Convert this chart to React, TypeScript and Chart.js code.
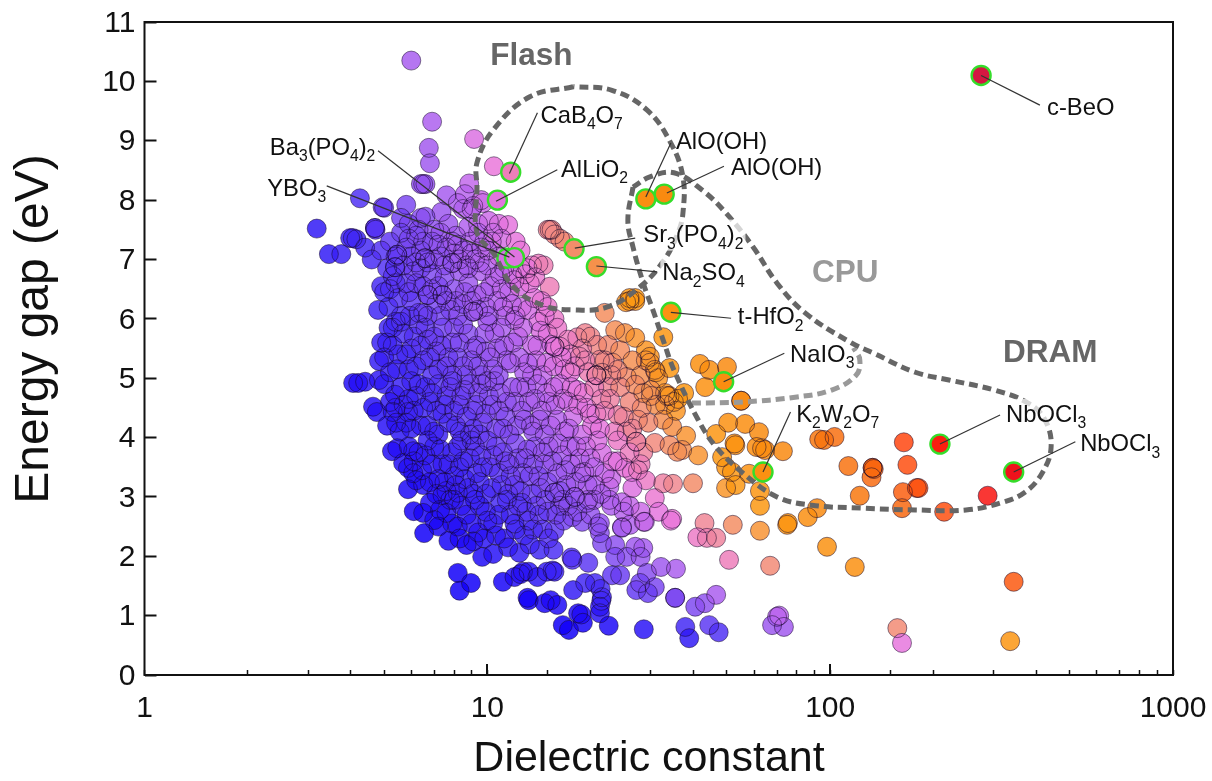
import React, { useEffect, useRef } from "react";
import { Chart, registerables } from "chart.js";
Chart.register(...registerables);

type P = [number, number];

const xTickValues = [1, 10, 100, 1000];
const yMax = 11;
const xAxisTitle = "Dielectric constant";
const yAxisTitle = "Energy gap (eV)";

const isolatedTop: P[] = [[6.0,10.35],[6.9,9.32],[6.75,8.88],[6.8,8.62],[9.15,9.03],[10.45,8.57],[6.4,8.27],[6.5,8.27],[6.6,8.27],[8.85,8.28],[7.6,8.08],[7.35,7.8],[4.25,8.03],[4.95,7.88],[5.8,7.92],[6.4,7.7],[3.18,7.52],[3.45,7.09],[3.75,7.09],[3.98,7.36],[4.05,7.36],[4.15,7.34],[4.7,7.53],[4.7,7.53],[4.72,7.5],[4.4,7.2],[4.6,7.0]];
const bandAbove75: P[] = [[5.0,7.87],[5.6,7.7],[5.9,7.6],[6.3,7.5],[6.6,7.72],[7.0,7.5],[7.3,7.45],[7.7,7.6],[8.1,7.4],[8.5,7.85],[8.8,7.55],[9.1,7.9],[9.4,7.6],[9.7,7.95],[10.1,7.65],[10.8,7.6],[11.5,7.58],[8.2,7.95],[8.6,8.1],[9.0,7.85],[9.6,8.0],[9.8,7.3],[15,7.5],[15.2,7.5],[15.4,7.5],[15.7,7.42],[16.3,7.35],[16.8,7.3]];
const band70: P[] = [[4.9,7.15],[5.2,7.3],[5.4,7.05],[5.46,7.08],[5.46,7.08],[5.38,6.87],[5.38,6.87],[5.7,6.9],[5.8,7.2],[6.0,7.05],[6.2,6.95],[6.58,7.02],[6.58,7.02],[6.9,7.3],[7.0,7.0],[7.6,7.2],[7.9,6.94],[7.9,6.94],[8.0,7.1],[8.3,7.0],[8.9,7.3],[9.2,7.0],[9.6,7.2],[10.0,6.9],[10.3,7.3],[10.8,7.05],[12.5,6.85],[13.5,6.9],[14.1,6.93]];
const extra70: P[] = [[4.9,6.55],[4.8,6.15],[5.0,6.45],[5.1,6.85],[5.15,6.2],[5.6,7.45],[5.9,7.35],[6.2,7.4],[6.5,7.3],[6.4,7.15],[6.7,6.95],[7.2,7.25],[7.3,7.05],[7.5,6.9],[7.9,7.3],[8.2,7.25],[8.5,7.15],[8.7,6.9],[9.0,7.1],[9.4,7.45],[9.5,6.95],[10,7.15],[10.4,7.45],[11,7.35],[11.2,6.85],[12.1,7.3],[12.5,7.15],[11.8,6.75]];
const band65: P[] = [[5.3,6.72],[5.5,6.35],[5.6,6.05],[5.8,6.6],[6.0,6.3],[6.1,6.8],[6.3,6.1],[6.5,6.1],[6.5,6.55],[6.7,6.4],[6.7,6.4],[6.9,6.75],[7.1,6.25],[7.4,6.4],[7.4,6.4],[7.5,6.7],[7.8,6.15],[8.0,6.5],[8.3,6.8],[8.5,6.25],[8.8,6.6],[9.1,6.12],[9.1,6.12],[9.3,6.4],[9.6,6.8],[9.9,6.2],[10.2,6.55],[10.7,6.3],[10.9,6.75],[11.3,6.05],[11.6,6.45],[12,6.65],[12.4,6.54],[12.6,6.2],[13.1,6.85],[13.3,6.6],[13.7,6.35],[14.1,5.95],[14.6,6.9],[15,6.2],[15.2,6.54],[15.7,6.0]];
const extra60: P[] = [[5.2,6.5],[5.4,6.6],[5.4,5.95],[5.9,6.45],[5.95,6.05],[6.2,6.6],[6.4,6.85],[6.7,6.05],[6.9,6.5],[7.2,6.55],[7.3,6.05],[7.6,6.3],[8.1,6.3],[8.2,6.05],[8.6,6.45],[8.8,6.85],[9,6.3],[9.4,6.15],[9.8,6.45],[10.1,6.05],[10.5,6.7],[11,6.5],[11.1,6.2],[11.8,6.25],[12.1,6.05],[12.9,6.75],[13.1,6.15],[13.8,6.7],[14.4,6.3],[14.7,6.05]];
const band55: P[] = [[4.83,5.29],[5.1,5.6],[5.3,5.85],[5.2,5.1],[5.5,5.4],[5.7,5.75],[5.9,5.15],[6.0,5.5],[6.3,5.9],[6.5,5.3],[6.7,5.65],[6.9,5.05],[7.1,5.45],[7.4,5.85],[7.6,5.2],[7.9,5.6],[8.2,5.35],[8.5,5.9],[8.7,5.05],[9.1,5.5],[9.4,5.2],[9.8,5.75],[10.2,5.35],[10.5,5.76],[10.8,5.05],[11.2,5.55],[11.7,5.25],[12,5.98],[12.3,5.7],[12.8,5.1],[13.5,5.56],[13.9,5.3],[14.3,5.8],[14.9,5.26],[15.4,5.56],[15.7,5.53],[15.7,5.53],[16.3,5.53],[16.8,5.15],[17.5,5.4],[18.3,5.69],[18.6,5.36],[19.3,5.76],[19.7,5.1],[20.8,5.05],[20.8,5.05],[20.8,5.05],[20.9,5.56],[21.3,5.31],[21.6,5.09],[22,6.1],[22.5,5.56],[23.2,5.26],[23.6,5.81],[24,5.14],[24.4,5.47],[25.2,5.76],[25.5,5.02],[25.4,6.28],[26,6.35],[27,6.35],[27,5.68],[29,5.47],[29.8,5.36],[29.8,5.26],[30.8,5.14],[32.6,5.69],[34,5.17],[31.5,5.0],[29,5.3],[31,5.1]];
const extra55: P[] = [[4.9,5.6],[5.0,5.35],[5.15,5.85],[5.3,5.55],[5.45,5.15],[5.6,5.95],[5.8,5.4],[6.1,5.7],[6.2,5.2],[6.4,5.55],[6.6,5.85],[6.8,5.35],[7,5.7],[7.2,5.15],[7.35,5.55],[7.7,5.35],[7.9,5.05],[8,5.85],[8.3,5.6],[8.5,5.2],[8.8,5.75],[9,5.3],[9.3,5.55],[9.6,5.05],[9.9,5.45],[10,5.95],[10.4,5.15],[10.7,5.5],[11,5.85],[11.4,5.3],[11.9,5.6],[12.4,5.35],[12.7,5.85],[13.1,5.25],[13.5,5.05],[14,5.55],[14.5,5.05],[15,5.75],[15.6,5.2],[16,5.85],[16.5,5.35],[17.2,5.65],[17.5,5.1],[18,5.2],[18.9,5.5],[19.3,5.3],[20,5.7],[22,5.3],[23,5.05],[26.5,5.3],[28,5.05]];
const band45: P[] = [[4.06,4.92],[4.2,4.92],[4.4,4.94],[4.83,4.97],[4.64,4.52],[4.76,4.43],[5.38,4.72],[5.42,4.25],[5.3,4.43],[5.87,4.43],[5.8,4.25],[5.0,4.9],[5.2,4.6],[5.6,4.85],[5.7,4.55],[6.0,4.95],[6.2,4.7],[6.4,4.2],[6.6,4.85],[6.8,4.6],[7.0,4.1],[7.2,4.9],[7.4,4.4],[7.6,4.7],[7.9,4.95],[8.1,4.2],[8.3,4.55],[8.6,4.8],[8.9,4.05],[9.1,4.45],[9.4,4.75],[9.7,4.25],[10,4.95],[10.3,4.55],[10.6,4.15],[10.9,4.75],[11.3,4.35],[11.6,4.05],[12,4.6],[12.4,4.85],[12.8,4.3],[13.2,4.6],[13.6,4.1],[14,4.9],[14.4,4.45],[14.9,4.75],[15.3,4.2],[15.8,4.55],[16.3,4.9],[16.8,4.1],[17.2,4.6],[17.8,4.35],[18.3,4.8],[18.9,4.05],[19.5,4.5],[20.2,4.2],[20.8,4.4],[21.5,4.65],[22.5,4.85],[23.5,4.1],[24,4.38],[24.4,4.85],[25,4.35],[26,4.6],[27,4.89],[27.5,4.3],[28.2,4.5],[28.5,4.75],[30,4.8],[31,4.55],[32.6,4.3],[33.5,4.7],[34.6,4.18],[35,4.6],[36,4.65],[38,4.03],[33,4.75],[34,4.7],[37.5,4.75],[33,4.55],[35.5,4.45],[30,4.7]];
const extra45: P[] = [[5.1,4.2],[5.4,4.5],[5.55,4.1],[5.9,4.65],[6,4.15],[6.1,4.45],[6.3,4.9],[6.5,4.5],[6.7,4.2],[6.9,4.75],[7.1,4.45],[7.2,4.05],[7.5,4.55],[7.7,4.25],[7.8,4.85],[8,4.45],[8.3,4.1],[8.4,4.7],[8.7,4.35],[8.9,4.9],[9.1,4.15],[9.3,4.55],[9.5,4.05],[9.6,4.9],[9.9,4.4],[10.1,4.7],[10.5,4.95],[10.8,4.45],[11.1,4.15],[11.4,4.6],[11.8,4.85],[12.2,4.2],[12.6,4.45],[13,4.85],[13.4,4.2],[13.8,4.65],[14.2,4.3],[14.7,4.05],[15.1,4.6],[15.6,4.85],[16,4.3],[16.6,4.65],[17.3,4.15],[17.6,4.85],[18.4,4.55],[19.1,4.75],[19.9,4.4],[20.5,4.85],[21.3,4.15],[22,4.45],[22.8,4.65],[25.5,4.1],[26.5,4.15],[29.5,4.25]];
const band35: P[] = [[5.27,3.77],[5.46,3.82],[6.08,3.77],[5.68,3.57],[5.87,3.49],[6.08,3.4],[6.45,3.45],[6.2,3.28],[5.87,3.13],[7.4,3.03],[8.2,3.07],[6.3,3.75],[6.7,3.95],[6.9,3.55],[7.2,3.3],[7.3,3.8],[7.6,3.1],[7.7,3.55],[8.0,3.35],[8.2,3.85],[8.5,3.6],[8.8,3.15],[9.0,3.95],[9.3,3.4],[9.6,3.7],[9.9,3.05],[10.2,3.5],[10.6,3.85],[11,3.2],[11.3,3.6],[11.7,3.35],[12.1,3.9],[12.5,3.1],[12.9,3.65],[13.3,3.35],[13.8,3.85],[14.3,3.15],[14.7,3.55],[15.1,3.85],[15.7,3.07],[15.7,3.07],[16,3.4],[16.5,3.7],[17,3.2],[17.5,3.55],[18,3],[18,3],[18.2,3.85],[18.8,3.4],[19.2,3.42],[19.7,2.95],[20,3.65],[20.6,3.2],[21.6,3.74],[22,3.4],[22.7,3.17],[23.2,3.6],[24,3.95],[24.7,2.91],[25.2,3.49],[26.4,3.42],[27.2,3.93],[27.2,3.93],[27.5,3.45],[29,3.28],[28.5,3.75],[30.8,3.91],[30.8,2.98],[32.6,3.23],[34,3.87],[34.8,3.22],[35.8,3.76],[37,3.79],[39.8,3.23],[41.2,3.7]];
const extra35: P[] = [[5.9,3.85],[6.1,3.6],[6.5,3.2],[6.6,3.7],[6.8,3.25],[7,3.85],[7.1,3.05],[7.4,3.55],[7.5,3.25],[7.9,3.75],[8.1,3.2],[8.3,3.5],[8.4,3.95],[8.6,3.3],[8.9,3.65],[9.1,3.05],[9.2,3.85],[9.5,3.25],[9.7,3.5],[10,3.95],[10.3,3.15],[10.4,3.7],[10.8,3.4],[11.1,3.75],[11.5,3.05],[11.6,3.55],[12,3.2],[12.3,3.65],[12.7,3.4],[13.1,3.8],[13.5,3.05],[13.6,3.55],[14.1,3.35],[14.5,3.75],[15,3.25],[15.5,3.6],[16.1,3.9],[16.3,3.1],[16.9,3.45],[17.4,3.85],[18.1,3.25],[18.6,3.65],[19.4,3.85],[19.6,3.2],[20.5,3.5],[21,3.95],[21.5,3.05],[23,3.3],[24,3.6],[26,3.75],[26.5,3.15],[28,3.55]];
const band25: P[] = [[6.1,2.76],[6.5,2.73],[6.54,2.39],[7.0,2.61],[7.28,2.78],[7.6,2.73],[7.7,2.26],[8,2.95],[8.2,2.5],[8.7,2.19],[8.7,2.7],[9.2,2.95],[9.4,2.4],[9.66,1.99],[9.9,2.75],[10.4,2.04],[10.4,2.55],[10.9,2.9],[11.2,2.3],[11.7,2.7],[12.1,2.45],[12.4,2.06],[12.6,2.9],[13.2,2.6],[13.3,2.2],[13.9,2.85],[14.2,2.11],[14.5,2.45],[15,2.75],[15.6,2.11],[15.7,2.44],[16.3,2.85],[16.7,2.6],[17.7,2.66],[18.9,2.58],[19.5,2.9],[21.3,2.56],[21.3,2.39],[21,2.5],[21.6,2.22],[22.7,2.95],[23,2.85],[23.6,2.19],[24.7,2.49],[24.7,2.48],[26,2.85],[26.1,2.53],[27,2.16],[28,2.75],[28.5,2.14],[28.6,2.58],[28.8,2.58],[31.6,2.75],[34.6,2.63],[34.3,2.6]];
const extra25: P[] = [[6.8,2.9],[7.2,2.5],[7.8,2.95],[7.9,2.55],[8.3,2.3],[8.4,2.85],[9,2.55],[9.1,2.25],[9.5,2.85],[9.8,2.3],[10,2.6],[10.6,2.35],[10.8,2.7],[11.4,2.95],[11.5,2.15],[12,2.55],[12.3,2.85],[12.8,2.35],[13,2.75],[13.6,2.45],[14.2,2.7],[14.8,2.95],[15.1,2.3],[15.9,2.7],[16.6,2.95],[17.2,2.85],[18.3,2.75],[20,2.7],[20.5,2.95],[25,2.75]];
const band15: P[] = [[8.2,1.72],[8.96,1.55],[8.3,1.42],[11.1,1.57],[12,1.65],[12.7,1.74],[12.5,1.7],[13.2,1.74],[14,1.65],[14.9,1.74],[15.7,1.74],[15.5,1.76],[13.2,1.26],[13.1,1.3],[14.7,1.21],[15.3,1.26],[16,1.18],[16.6,0.84],[17.3,0.76],[18.4,1.04],[19,0.88],[18.8,1.02],[21.3,1.15],[21.3,1.04],[21.6,1.31],[21.5,1.25],[22.6,0.83],[28.6,0.77],[17.8,1.43],[19.3,1.55],[20.6,1.55],[21.4,1.45],[17.7,1.94],[19.7,1.89],[17.6,1.98],[23.6,1.99],[25.5,1.99],[28,1.99],[23.1,1.68],[24.4,1.68],[29.2,1.72],[30.8,1.48],[27.2,1.43],[29.4,1.38],[35.3,1.3],[32.1,1.82],[35.5,1.79],[27.9,1.55]];
const rightScatter: P[] = [[41.7,5.24],[44.4,5.14],[50,5.19],[43.2,4.85],[55,4.62],[55,4.62],[50.4,4.25],[56.5,4.23],[62,4.09],[46.5,4.06],[52.6,3.9],[52.9,3.87],[61,3.84],[63.3,3.82],[64.6,3.79],[72.8,3.77],[48.4,3.67],[49.7,3.5],[51.7,3.42],[58,3.39],[49.7,3.15],[53,3.2],[62.4,3.1],[62.4,2.85],[91.6,2.81],[86,2.66],[75.3,2.56],[74.9,2.53],[62.4,2.43],[52,2.53],[43,2.56],[41,2.32],[43.7,2.31],[46.5,2.31],[50.7,1.94],[66.8,1.84],[97.9,2.16],[118,1.82],[92.9,3.97],[96,3.96],[103,4.01],[164,3.92],[113,3.52],[133,3.49],[133,3.49],[134,3.47],[132,3.33],[168,3.54],[122,3.02],[163,3.08],[179,3.15],[181,3.15],[162,2.81],[215,2.75],[288,3.02],[343,1.57],[335,0.57],[157,0.79],[162,0.54],[70,0.98],[67.7,0.84],[73.3,0.81],[71,1.0],[37.8,0.81],[38.8,0.62],[44.4,0.84],[47.3,0.72],[35.3,1.3],[40.4,1.15],[43.1,1.21],[46.5,1.35],[26,6.3],[27,6.3]];
const highlighted: P[] = [[275.6,10.1],[11.7,8.47],[10.7,8.0],[11.4,7.02],[12,7.03],[29,8.02],[32.8,8.1],[17.9,7.18],[20.8,6.88],[34.3,6.11],[48.9,4.94],[63.7,3.42],[209,3.89],[343,3.42]];

const flashOutline: P[] = [[17.8,9.91],[13.3,9.74],[10.4,9.18],[9.33,8.63],[9.33,8.22],[9.33,7.45],[10.4,7.11],[11.9,6.54],[14.5,6.23],[17.8,6.15],[22.4,6.2],[27.9,6.54],[32.8,6.99],[36,7.45],[37.2,7.78],[37.2,8.39],[34.3,8.96],[29.2,9.52],[23.1,9.85],[17.8,9.91]];
const dramOutline: P[] = [[26.6,8.22],[25.7,7.66],[26.6,7.21],[28.5,6.6],[30.4,6.15],[32.8,5.59],[35,5.14],[41.2,4.3],[46.5,3.84],[55.7,3.4],[70,3.0],[88.5,2.86],[125,2.81],[177,2.78],[249,2.78],[315,2.9],[370,3.08],[415,3.4],[441,3.84],[423,4.3],[378,4.58],[301,4.8],[222,4.97],[177,5.1],[134,5.42],[114,5.61],[84.5,6.1],[70,6.6],[59.6,7.21],[49.7,7.78],[42.3,8.17],[35,8.46],[29.8,8.39],[26.6,8.22]];
const cpuLobe: P[] = [[39.5,4.58],[55.7,4.6],[79,4.68],[101,4.8],[119,5.05],[122,5.31],[117,5.51]];

const leaders: P[][] = [
  [[275.6,10.1],[409,9.6]],[[29,8.05],[34.3,8.96]],[[33.4,8.12],[49,8.57]],[[11.6,8.45],[14,9.47]],
  [[10.6,7.98],[16,8.51]],[[4.8,8.83],[12,7.04]],[[3.4,8.24],[11.6,7.04]],[[18,7.19],[27,7.36]],
  [[20.8,6.89],[31.3,6.79]],[[34.3,6.11],[51.4,6.01]],[[48.9,4.94],[73.5,5.42]],[[63.7,3.42],[76.6,4.43]],
  [[209,3.89],[313,4.38]],[[343,3.42],[519,3.93]],
];

const calloutText = ["CaB_4O_7","AlLiO_2","Ba_3(PO_4)_2","YBO_3","AlO(OH)","AlO(OH)","Sr_3(PO_4)_2","Na_2SO_4","t-HfO_2","NaIO_3","K_2W_2O_7","NbOCl_3","NbOCl_3","c-BeO"];
const calloutEps = [14.3,16.4,2.32,2.28,35.5,51.4,28.5,32.4,53.8,76.4,79.6,326,536,429];
const calloutGap = [9.45,8.54,8.91,8.22,9.01,8.56,7.43,6.79,6.05,5.42,4.41,4.41,3.91,9.57];
const calloutBacked = [false,false,false,false,false,false,true,true,false,false,false,true,false,false];

const regionNames = ["Flash","CPU","DRAM"];
const regionEps = [10.2,88.5,319];
const regionGap = [10.43,6.77,5.42];
const regionColors = ["#666666","#999999","#666666"];

const stops: [number, number[]][] = [
  [1.2,[18,0,248]],[1.5,[70,44,245]],[1.7,[138,80,240]],[1.85,[187,102,238]],[1.95,[234,120,220]],
  [2.05,[240,136,144]],[2.15,[245,144,80]],[2.22,[252,154,20]],[2.5,[248,132,15]],[2.65,[248,106,16]],
  [2.8,[255,74,16]],[2.95,[248,16,16]],[3.5,[208,24,72]],
];
function fomColor(eps: number, gap: number, alpha: number) {
  const v = Math.log10(eps * gap);
  let c = stops[0][1];
  if (v >= stops[stops.length - 1][0]) c = stops[stops.length - 1][1];
  else for (let i = 0; i < stops.length - 1; i++) {
    const [a, ca] = stops[i], [b, cb] = stops[i + 1];
    if (v >= a && v < b) { const t = (v - a) / (b - a); c = ca.map((k, j) => k + (cb[j] - k) * t); }
  }
  return `rgba(${Math.round(c[0])},${Math.round(c[1])},${Math.round(c[2])},${alpha})`;
}
const toXY = (a: P[]) => a.map(([x, y]) => ({ x, y }));
const FONT = '"Liberation Sans", Arial, sans-serif';

function drawRich(ctx: CanvasRenderingContext2D, s: string, x: number, y: number, size: number, backed: boolean) {
  const parts = s.split(/_(\d)/);
  ctx.textBaseline = "alphabetic";
  ctx.textAlign = "left";
  const subSize = size * 0.66;
  let w = 0;
  parts.forEach((p, i) => { ctx.font = `${i % 2 ? subSize : size}px ${FONT}`; w += ctx.measureText(p).width; });
  const base = y + size * 0.36;
  if (backed) { ctx.fillStyle = "rgba(255,255,255,0.72)"; ctx.fillRect(x - 2, y - size * 0.6, w + 4, size * 1.3); }
  ctx.fillStyle = "#111";
  let cx = x;
  parts.forEach((p, i) => {
    const sub = i % 2 === 1;
    ctx.font = `${sub ? subSize : size}px ${FONT}`;
    ctx.fillText(p, cx, sub ? base + size * 0.28 : base);
    cx += ctx.measureText(p).width;
  });
}

const overlay = {
  id: "overlay",
  afterDatasetsDraw(chart: any) {
    const { ctx, chartArea: a, scales: { x, y } } = chart;
    ctx.save();
    ctx.strokeStyle = "#111";
    ctx.lineWidth = 2;
    ctx.strokeRect(a.left, a.top, a.right - a.left, a.bottom - a.top);
    xTickValues.slice(1, 3).forEach((v) => {
      const px = Math.round(x.getPixelForValue(v));
      ctx.beginPath(); ctx.moveTo(px, a.bottom); ctx.lineTo(px, a.bottom - 11); ctx.stroke();
    });
    calloutText.forEach((t, i) => drawRich(ctx, t, x.getPixelForValue(calloutEps[i]), y.getPixelForValue(calloutGap[i]), 23.8, calloutBacked[i]));
    regionNames.forEach((t, i) => {
      ctx.font = `bold 31.5px ${FONT}`;
      ctx.fillStyle = regionColors[i];
      ctx.textAlign = "left";
      ctx.textBaseline = "middle";
      ctx.fillText(t, x.getPixelForValue(regionEps[i]), y.getPixelForValue(regionGap[i]));
    });
    ctx.fillStyle = "#111";
    ctx.textAlign = "center";
    ctx.textBaseline = "middle";
    ctx.font = `43px ${FONT}`;
    ctx.fillText(xAxisTitle, 649, 759);
    ctx.translate(35, 329);
    ctx.rotate(-Math.PI / 2);
    ctx.font = `48px ${FONT}`;
    ctx.fillText(yAxisTitle, 0, 0);
    ctx.restore();
  },
};

export default function App() {
  const ref = useRef<HTMLCanvasElement>(null);
  useEffect(() => {
    const all = [...isolatedTop, ...bandAbove75, ...band70, ...extra70, ...band65, ...extra60, ...band55, ...extra55, ...band45, ...extra45, ...band35, ...extra35, ...band25, ...extra25, ...band15, ...rightScatter];
    const outline = (data: P[], color: string, order: number) => ({
      type: "scatter", data: toXY(data), showLine: true, tension: 0.4, pointRadius: 0, fill: false,
      borderColor: color, borderWidth: 5, borderDash: [9, 5], order,
    });
    const chart = new Chart(ref.current!, {
      type: "scatter",
      data: {
        datasets: [
          ...leaders.map((l) => ({ type: "scatter", data: toXY(l), showLine: true, pointRadius: 0, borderColor: "#333", borderWidth: 1.2, tension: 0, order: 0 })),
          {
            data: toXY(highlighted), order: 4, pointRadius: 9.5, pointBorderWidth: 2.4,
            pointBorderColor: "#35dd2a",
            pointBackgroundColor: (c: any) => fomColor(c.raw.x, c.raw.y, 1),
          },
          outline(flashOutline, "#666666", 2),
          outline(dramOutline, "#666666", 1),
          outline(cpuLobe, "#999999", 3),
          {
            data: toXY(all), order: 5, pointRadius: 9.5, pointBorderWidth: 1,
            pointBorderColor: "rgba(20,5,40,0.5)",
            pointBackgroundColor: "rgba(0,0,0,0)",
          },
          {
            data: toXY(all), order: 6, pointRadius: 9.5, pointBorderWidth: 0,
            pointBackgroundColor: (c: any) => fomColor(c.raw.x, c.raw.y, 0.85),
          },
        ] as any,
      },
      options: {
        animation: false, responsive: false,
        layout: { padding: { top: 22, right: 39, left: 0, bottom: 0 } },
        plugins: { legend: { display: false }, tooltip: { enabled: false } },
        scales: {
          x: {
            type: "logarithmic", min: 1, max: 1000,
            afterFit: (s: any) => { s.height = 106; s.paddingLeft = 0; s.paddingRight = 0; },
            grid: { drawOnChartArea: false, drawTicks: true, tickLength: -5, tickColor: "#111", tickWidth: 1.5 },
            border: { display: false },
            ticks: {
              autoSkip: false, maxRotation: 0, padding: 21, color: "#111", font: { family: FONT, size: 30 },
              callback: (v: any) => (xTickValues.includes(Number(v)) ? String(v) : ""),
            },
          },
          y: {
            min: 0, max: yMax,
            afterFit: (s: any) => { s.width = 144.5; s.paddingTop = 0; s.paddingBottom = 0; },
            grid: { drawOnChartArea: false, drawTicks: true, tickLength: -12, tickColor: "#111", tickWidth: 2 },
            border: { display: false },
            ticks: { stepSize: 1, padding: 21, labelOffset: 1.5, color: "#111", font: { family: FONT, size: 30 } },
          },
        },
      } as any,
      plugins: [overlay],
    });
    return () => chart.destroy();
  }, []);
  return (
    <div style={{ position: "absolute", left: 0, top: 0, width: 1212, height: 781, background: "#fff" }}>
      <canvas ref={ref} width={1212} height={781} style={{ display: "block", width: 1212, height: 781 }} />
    </div>
  );
}
